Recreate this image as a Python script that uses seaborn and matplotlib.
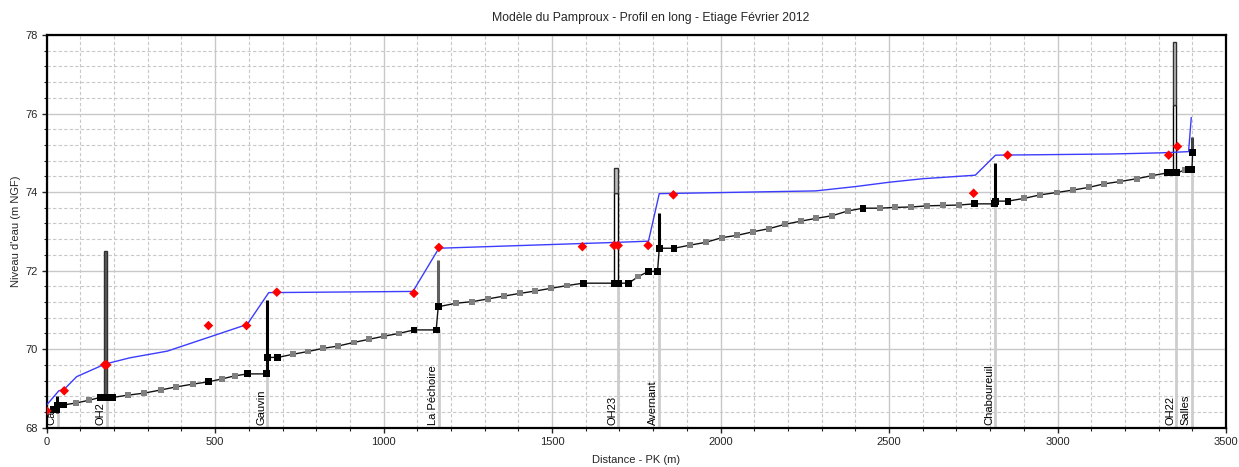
import numpy as np
import pandas as pd
import matplotlib
matplotlib.use("Agg")
import matplotlib.pyplot as plt
from matplotlib.ticker import MultipleLocator
from matplotlib.patches import Rectangle
import seaborn as sns

# ---------------- data ----------------
title = "Modèle du Pamproux - Profil en long - Etiage Février 2012"
xlabel = "Distance - PK (m)"
ylabel = "Niveau d'eau (m NGF)"

# simulated water level (blue line)
wl_pk = [0, 36, 51, 89, 173, 247, 358, 595, 659, 1087, 1164, 1694, 1786, 1818,
         2282, 2400, 2500, 2600, 2756, 2816, 3161, 3310, 3389, 3397]
wl_lv = [68.58, 68.94, 68.97, 69.30, 69.62, 69.78, 69.95, 70.63, 71.44, 71.47,
         72.57, 72.72, 72.75, 73.96, 74.03, 74.14, 74.25, 74.34, 74.43, 74.94,
         74.97, 75.00, 75.03, 75.90]

# observed levels (red diamonds)
obs_pk = [0, 52, 172, 178, 480, 593, 683, 1090, 1164, 1590, 1684, 1696, 1785,
          1860, 2751, 2852, 3330, 3356]
obs_lv = [68.43, 68.94, 69.60, 69.60, 70.60, 70.60, 71.45, 71.42, 72.59, 72.61,
          72.64, 72.64, 72.64, 73.93, 73.97, 74.94, 74.94, 75.16]

# bed (thalweg) : P = surveyed profile, I = interpolated profile
bed_pk = [20, 30, 32, 50, 88, 126, 158, 170, 180, 195, 242, 289, 338, 385, 434,
          481, 519, 558, 596, 652, 655, 686, 731, 775, 820, 865, 911, 956, 1001,
          1045, 1090, 1156, 1162, 1215, 1263, 1310, 1356, 1404, 1450, 1497, 1545,
          1592, 1684, 1696, 1727, 1756, 1786, 1813, 1818, 1862, 1910, 1956, 2004,
          2050, 2097, 2144, 2192, 2238, 2283, 2332, 2378, 2423, 2473, 2517, 2566,
          2613, 2661, 2707, 2753, 2812, 2817, 2853, 2901, 2949, 2998, 3045, 3093,
          3139, 3186, 3235, 3281, 3327, 3336, 3345, 3354, 3378, 3389, 3399, 3401]
bed_lv = [68.47, 68.47, 68.58, 68.58, 68.63, 68.70, 68.77, 68.77, 68.77, 68.77,
          68.83, 68.88, 68.96, 69.04, 69.11, 69.17, 69.24, 69.32, 69.37, 69.37,
          69.79, 69.79, 69.87, 69.94, 70.02, 70.08, 70.17, 70.25, 70.33, 70.40,
          70.49, 70.49, 71.08, 71.17, 71.21, 71.28, 71.35, 71.42, 71.48, 71.55,
          71.62, 71.68, 71.68, 71.68, 71.68, 71.85, 71.98, 71.98, 72.57, 72.57,
          72.65, 72.72, 72.84, 72.90, 72.99, 73.07, 73.18, 73.26, 73.33, 73.40,
          73.52, 73.59, 73.59, 73.61, 73.62, 73.65, 73.66, 73.67, 73.70, 73.70,
          73.77, 73.77, 73.84, 73.93, 73.99, 74.05, 74.12, 74.21, 74.27, 74.34,
          74.42, 74.49, 74.49, 74.49, 74.49, 74.56, 74.58, 74.58, 75.00]
bed_kind = ["P", "P", "P", "P", "I", "I", "P", "P", "P", "P", "I", "I", "I", "I",
            "I", "P", "I", "I", "P", "P", "P", "P", "I", "I", "I", "I", "I", "I",
            "I", "I", "P", "P", "P", "I", "I", "I", "I", "I", "I", "I", "I", "P",
            "P", "P", "P", "I", "P", "P", "P", "P", "I", "I", "I", "I", "I", "I",
            "I", "I", "I", "I", "I", "P", "I", "I", "I", "I", "I", "I", "P", "P",
            "P", "P", "I", "I", "I", "I", "I", "I", "I", "I", "I", "P", "P", "P",
            "P", "I", "P", "P", "P"]

# weirs (seuils): crest and foot
weir_pk = [30, 654, 1162, 1816, 2815, 3398]
weir_top = [68.81, 71.25, 72.27, 73.46, 74.73, 75.41]
weir_foot = [68.37, 69.37, 71.08, 72.57, 73.77, 75.00]
weir_col = ["#000000", "#000000", "#606060", "#000000", "#000000", "#404040"]

# bridges (ouvrages): left/right PK, bed, low chord, top
oh_left = [170, 1685, 3342]
oh_right = [180, 1697, 3352]
oh_bed = [68.77, 71.68, 74.49]
oh_low = [68.77, 73.98, 76.22]
oh_top = [72.50, 74.62, 77.82]
oh_deck = ["#5e5e5e", "#c0c0c0", "#c0c0c0"]

# singularity labels
lab_names = ["Ca", "OH2", "Gauvin", "La Péchoire", "OH23", "Avernant",
             "Chaboureuil", "OH22", "Salles"]
lab_pk = [33, 178, 655, 1163, 1697, 1817, 2815, 3353, 3399]
lab_lv = [68.45, 68.77, 69.37, 70.49, 71.68, 71.98, 73.70, 74.49, 74.58]

# ---------------- figure ----------------
sns.set_style("white")
plt.rcParams["font.family"] = ["Liberation Sans", "DejaVu Sans"]

fig = plt.figure(figsize=(12.39, 4.67), dpi=100)
ax = fig.add_axes([0.03769, 0.08415, 0.9518, 0.8409])

ax.set_xlim(0, 3500)
ax.set_ylim(68, 78)
ax.xaxis.set_major_locator(MultipleLocator(500))
ax.xaxis.set_minor_locator(MultipleLocator(100))
ax.yaxis.set_major_locator(MultipleLocator(2))
ax.yaxis.set_minor_locator(MultipleLocator(0.4))
ax.set_axisbelow(True)
ax.grid(which="major", color="#c8c8c8", lw=1.0, ls="-", zorder=0)
ax.grid(which="minor", color="#c8c8c8", lw=0.8, ls=(0, (3, 2)), zorder=0)

# label lines (from bed to axis)
for pk, lv in zip(lab_pk, lab_lv):
    ax.plot([pk, pk], [68, lv], color="#cdcdcd", lw=2, zorder=1)

# bridges
for l, r, b, lo, t, c in zip(oh_left, oh_right, oh_bed, oh_low, oh_top, oh_deck):
    ax.add_patch(Rectangle((l, b), r - l, lo - b, facecolor="white",
                           edgecolor="black", lw=1, zorder=2))
    ax.add_patch(Rectangle((l, lo), r - l, t - lo, facecolor=c,
                           edgecolor="#303030", lw=1, zorder=2))

# weirs
for pk, t, f, c in zip(weir_pk, weir_top, weir_foot, weir_col):
    ax.plot([pk, pk], [f, t], color=c, lw=2.2, zorder=3, solid_capstyle="butt")

bed = pd.DataFrame({"pk": bed_pk, "niveau": bed_lv, "type": bed_kind})
sns.lineplot(data=bed, x="pk", y="niveau", sort=False, estimator=None,
             color="#111111", lw=1.0, ax=ax, zorder=4)
sns.scatterplot(data=bed[bed["type"] == "I"], x="pk", y="niveau", marker="s",
                s=18, color="#808080", edgecolor="none", ax=ax, zorder=5)
sns.scatterplot(data=bed[bed["type"] == "P"], x="pk", y="niveau", marker="s",
                s=24, color="#000000", edgecolor="none", ax=ax, zorder=6)

wl = pd.DataFrame({"pk": wl_pk, "niveau": wl_lv})
sns.lineplot(data=wl, x="pk", y="niveau", sort=False, estimator=None,
             color="#3c3cff", lw=1.0, ax=ax, zorder=7)

obs = pd.DataFrame({"pk": obs_pk, "niveau": obs_lv})
sns.scatterplot(data=obs, x="pk", y="niveau", marker="D", s=24,
                color="#ff0000", edgecolor="none", ax=ax, zorder=8)

# labels
for name, pk in zip(lab_names, lab_pk):
    ax.text(pk - 3, 68.08, name, rotation=90, ha="right", va="bottom",
            fontsize=8, color="black", zorder=9)

for s in ax.spines.values():
    s.set_visible(True)
    s.set_color("black")
    s.set_linewidth(1.6)
ax.tick_params(which="major", direction="out", length=3.5, width=1,
               labelsize=8, pad=3, bottom=True, left=True)
ax.tick_params(which="minor", direction="out", length=2.5, width=0.8,
               bottom=True, left=True)

ax.set_xlabel(xlabel, fontsize=8, labelpad=6)
ax.set_ylabel(ylabel, fontsize=8, labelpad=3)
fig.text(0.5255, 0.961, title, ha="center", va="center", fontsize=8.8)

fig.savefig("out.png", dpi=100)
